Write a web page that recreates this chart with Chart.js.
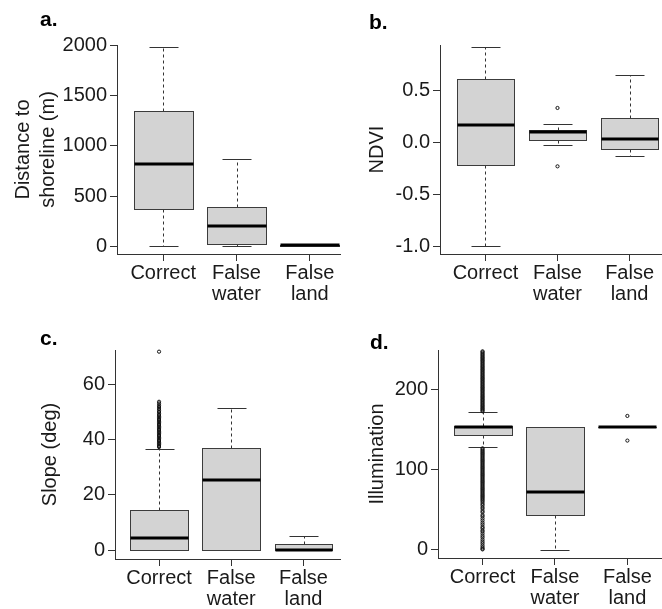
<!DOCTYPE html>
<html>
<head>
<meta charset="utf-8">
<script src="https://cdn.jsdelivr.net/npm/chart.js@4.4.1/dist/chart.umd.min.js"></script>
<style>
  html, body { margin: 0; padding: 0; background: #fff; }
  #wrap { position: relative; width: 662px; height: 609px; overflow: hidden; background: #fff; }
  .panel { position: absolute; overflow: hidden; }
  canvas { display: block; }
</style>
</head>
<body>
<div id="wrap">
  <div class="panel" style="left:0;top:0;width:341px;height:305px"><canvas id="chart1" width="356" height="305"></canvas></div>
  <div class="panel" style="left:341px;top:0;width:321px;height:305px"><canvas id="chart2" width="339" height="305"></canvas></div>
  <div class="panel" style="left:0;top:305px;width:341px;height:304px"><canvas id="chart3" width="354" height="304"></canvas></div>
  <div class="panel" style="left:341px;top:305px;width:321px;height:304px"><canvas id="chart4" width="337" height="304"></canvas></div>
</div>
<script>
const chart1 = document.getElementById("chart1").getContext("2d");
const chart2 = document.getElementById("chart2").getContext("2d");
const chart3 = document.getElementById("chart3").getContext("2d");
const chart4 = document.getElementById("chart4").getContext("2d");

const categories = ["Correct", ["False", "water"], ["False", "land"]];

// each row: [lower whisker, q1, median, q3, upper whisker]
const distStats = [
  [10, 370, 817, 1345, 1983],
  [10, 30, 202, 393, 873],
  [8, 8, 15, 22, 22],
];
const distOutliers = [[], [], []];
const distTicks = [0, 500, 1000, 1500, 2000];

const ndviStats = [
  [-0.99, -0.214, 0.163, 0.611, 0.918],
  [-0.028, 0.022, 0.104, 0.116, 0.175],
  [-0.129, -0.066, 0.03, 0.234, 0.649],
];
const ndviOutliers = [[], [0.33, -0.23], []];
const ndviTicks = [-1.0, -0.5, 0.0, 0.5];

const slopeStats = [
  [0, 0, 4.3, 14.3, 36.6],
  [0, 0, 25.4, 37.0, 51.3],
  [0, 0, 0, 2.3, 5.2],
];
const slopeCorrectOut = [
  37.2, 37.6, 38.1, 38.5, 38.9, 39.4, 39.8, 40.3, 40.7, 41.2, 41.6, 42.1,
  42.5, 42.9, 43.4, 43.8, 44.3, 44.7, 45.2, 45.6, 46.1, 46.5, 47.0, 47.4,
  47.9, 48.3, 48.8, 49.3, 49.9, 50.4, 51.0, 51.7, 52.3, 53.0, 53.6, 71.7,
];
const slopeOutliers = [slopeCorrectOut, [], []];
const slopeTicks = [0, 20, 40, 60];

const illumStats = [
  [127.5, 143.3, 152.8, 154.4, 171.4],
  [0, 42.6, 71.2, 152.4, 152.4],
  [152.3, 152.3, 152.8, 153.3, 153.3],
];
const illumCorrectOut = [
  172.3, 173.6, 175.0, 176.2, 177.7, 179.1, 180.4, 181.9, 183.2, 184.6, 186.1,
  187.3, 188.8, 190.2, 191.5, 193.0, 194.3, 195.7, 197.2, 198.5, 199.9, 201.4,
  202.6, 204.1, 205.5, 206.8, 208.3, 209.6, 211.0, 212.5, 213.7, 215.2, 216.6,
  217.9, 219.4, 220.7, 222.1, 223.6, 224.8, 226.3, 227.7, 229.0, 230.5, 231.8,
  233.2, 234.7, 235.9, 237.4, 238.8, 240.1, 241.6, 242.9, 244.3, 245.8, 247.0,
  126.2, 124.8, 123.3, 121.9, 120.4, 119.0, 117.5, 116.1, 114.6, 113.2, 111.7,
  110.3, 108.8, 107.4, 105.9, 104.5, 103.0, 101.6, 100.1, 98.7, 97.2, 95.8,
  94.3, 92.9, 91.4, 90.0, 88.5, 87.1, 85.6, 84.2, 82.7, 81.3, 79.8, 78.4,
  76.9, 75.5, 74.0, 72.6, 71.1, 69.7, 68.2, 66.8, 65.3, 63.9, 62.4, 61.0,
  59.1, 57.0, 55.2, 52.8, 50.9, 48.1, 46.3, 43.0, 41.2, 38.6, 36.1, 33.4,
  31.0, 28.2, 26.5, 24.0, 22.3, 19.8, 17.1, 14.9, 12.2, 9.7, 7.5, 5.1, 3.0,
  1.2, 0.3,
];
const illumOutliers = [illumCorrectOut, [], [166.5, 135.8]];
const illumTicks = [0, 100, 200];

const FONT = "'Liberation Sans', Arial, sans-serif";
const INK = "#1a1a1a";
const AXIS = "#333";

// draws box, whiskers, staples and median for each category
const boxplotPlugin = {
  id: "boxplot",
  beforeDatasetsDraw(chart, args, opts) {
    const { ctx } = chart;
    const x = chart.scales.x;
    const y = chart.scales.y;
    const py = (v) => Math.round(y.getPixelForValue(v)) + 0.5;
    const seg = (x1, y1, x2, y2) => {
      ctx.beginPath();
      ctx.moveTo(x1, y1);
      ctx.lineTo(x2, y2);
      ctx.stroke();
    };
    opts.stats.forEach((s, i) => {
      const [lo, q1, med, q3, hi] = s;
      const cx = Math.round(x.getPixelForValue(i + 1)) + 0.5;
      const left = Math.round(x.getPixelForValue(i + 1 - 0.4)) + 0.5;
      const right = Math.round(x.getPixelForValue(i + 1 + 0.4)) + 0.5;
      const capL = Math.round(x.getPixelForValue(i + 1 - 0.2)) + 0.5;
      const capR = Math.round(x.getPixelForValue(i + 1 + 0.2)) + 0.5;
      ctx.save();
      ctx.strokeStyle = AXIS;
      ctx.lineWidth = 1;
      ctx.setLineDash([3, 3]);
      seg(cx, py(q3), cx, py(hi));
      seg(cx, py(q1), cx, py(lo));
      ctx.setLineDash([]);
      seg(capL, py(hi), capR, py(hi));
      seg(capL, py(lo), capR, py(lo));
      ctx.fillStyle = "#d3d3d3";
      ctx.fillRect(left, py(q3), right - left, py(q1) - py(q3));
      ctx.strokeStyle = "#3c3c3c";
      ctx.strokeRect(left, py(q3), right - left, py(q1) - py(q3));
      ctx.strokeStyle = "#000";
      ctx.lineWidth = 3;
      const m = Math.round(y.getPixelForValue(med));
      seg(left, m, right, m);
      ctx.restore();
    });
  },
};

const panelLetter = {
  id: "panelLetter",
  afterDraw(chart, args, opts) {
    const ctx = chart.ctx;
    ctx.save();
    ctx.font = "bold 21px " + FONT;
    ctx.fillStyle = "#000";
    ctx.textBaseline = "alphabetic";
    ctx.fillText(opts.text, opts.x, opts.y);
    ctx.restore();
  },
};

function outlierPoints(groups) {
  const pts = [];
  groups.forEach((g, i) => g.forEach((v) => pts.push({ x: i + 1, y: v })));
  return pts;
}

function makeChart(ctx, p) {
  return new Chart(ctx, {
    type: "scatter",
    data: {
      datasets: [
        {
          data: outlierPoints(p.outliers),
          pointRadius: 1.6,
          pointBorderWidth: 1,
          pointBorderColor: "#111",
          pointBackgroundColor: "rgba(0,0,0,0)",
          showLine: false,
          clip: false,
        },
      ],
    },
    plugins: [boxplotPlugin, panelLetter],
    options: {
      responsive: false,
      animation: false,
      events: [],
      layout: { padding: { top: p.top, left: 0, right: 0, bottom: 0 } },
      plugins: {
        legend: { display: false },
        tooltip: { enabled: false },
        boxplot: { stats: p.stats },
        panelLetter: { text: p.letter, x: p.lx, y: p.ly },
      },
      scales: {
        x: {
          type: "linear",
          min: p.xmin,
          max: 3.63,
          afterBuildTicks: (s) => {
            s.ticks = [1, 2, 3].map((v) => ({ value: v }));
          },
          afterFit: (s) => {
            s.height = p.xh;
          },
          border: { display: true, color: AXIS, width: 1 },
          grid: { display: true, drawOnChartArea: false, drawTicks: true, tickLength: 7, color: AXIS },
          ticks: {
            autoSkip: false,
            maxRotation: 0,
            minRotation: 0,
            padding: 2,
            color: INK,
            font: { family: FONT, size: 20, lineHeight: 1.05 },
            callback: (v) => categories[v - 1],
          },
        },
        y: {
          type: "linear",
          min: p.ymin,
          max: p.ymax,
          afterBuildTicks: (s) => {
            s.ticks = p.ticks.map((v) => ({ value: v }));
          },
          afterFit: (s) => {
            s.width = p.yw;
          },
          border: { display: true, color: AXIS, width: 1 },
          grid: { display: true, drawOnChartArea: false, drawTicks: true, tickLength: 7, color: AXIS },
          ticks: {
            padding: 3,
            color: INK,
            font: { family: FONT, size: 20 },
            callback: p.fmt,
          },
          title: {
            display: true,
            text: p.title,
            color: INK,
            font: { family: FONT, size: 20, lineHeight: 1.25 },
            padding: { top: p.tpad, bottom: 0 },
          },
        },
      },
    },
  });
}

const distChart = makeChart(chart1, {
  stats: distStats, outliers: distOutliers, ticks: distTicks,
  ymin: -72, ymax: 2000, xmin: 0.37, yw: 117, xh: 51, top: 45,
  title: ["Distance to", "shoreline (m)"], tpad: 11,
  fmt: (v) => String(v), letter: "a.", lx: 40, ly: 26,
});

const ndviChart = makeChart(chart2, {
  stats: ndviStats, outliers: ndviOutliers, ticks: ndviTicks,
  ymin: -1.071, ymax: 0.934, xmin: 0.37, yw: 99, xh: 51, top: 45,
  title: "NDVI", tpad: 24,
  fmt: (v) => v.toFixed(1), letter: "b.", lx: 28, ly: 29,
});

const slopeChart = makeChart(chart3, {
  stats: slopeStats, outliers: slopeOutliers, ticks: slopeTicks,
  ymin: -3.25, ymax: 72.3, xmin: 0.39, yw: 115, xh: 50, top: 45,
  title: "Slope (deg)", tpad: 38,
  fmt: (v) => String(v), letter: "c.", lx: 40, ly: 40,
});

const illumChart = makeChart(chart4, {
  stats: illumStats, outliers: illumOutliers, ticks: illumTicks,
  ymin: -10.4, ymax: 248.6, xmin: 0.385, yw: 97, xh: 51, top: 45,
  title: "Illumination", tpad: 24,
  fmt: (v) => String(v), letter: "d.", lx: 29, ly: 44,
});
</script>
</body>
</html>
